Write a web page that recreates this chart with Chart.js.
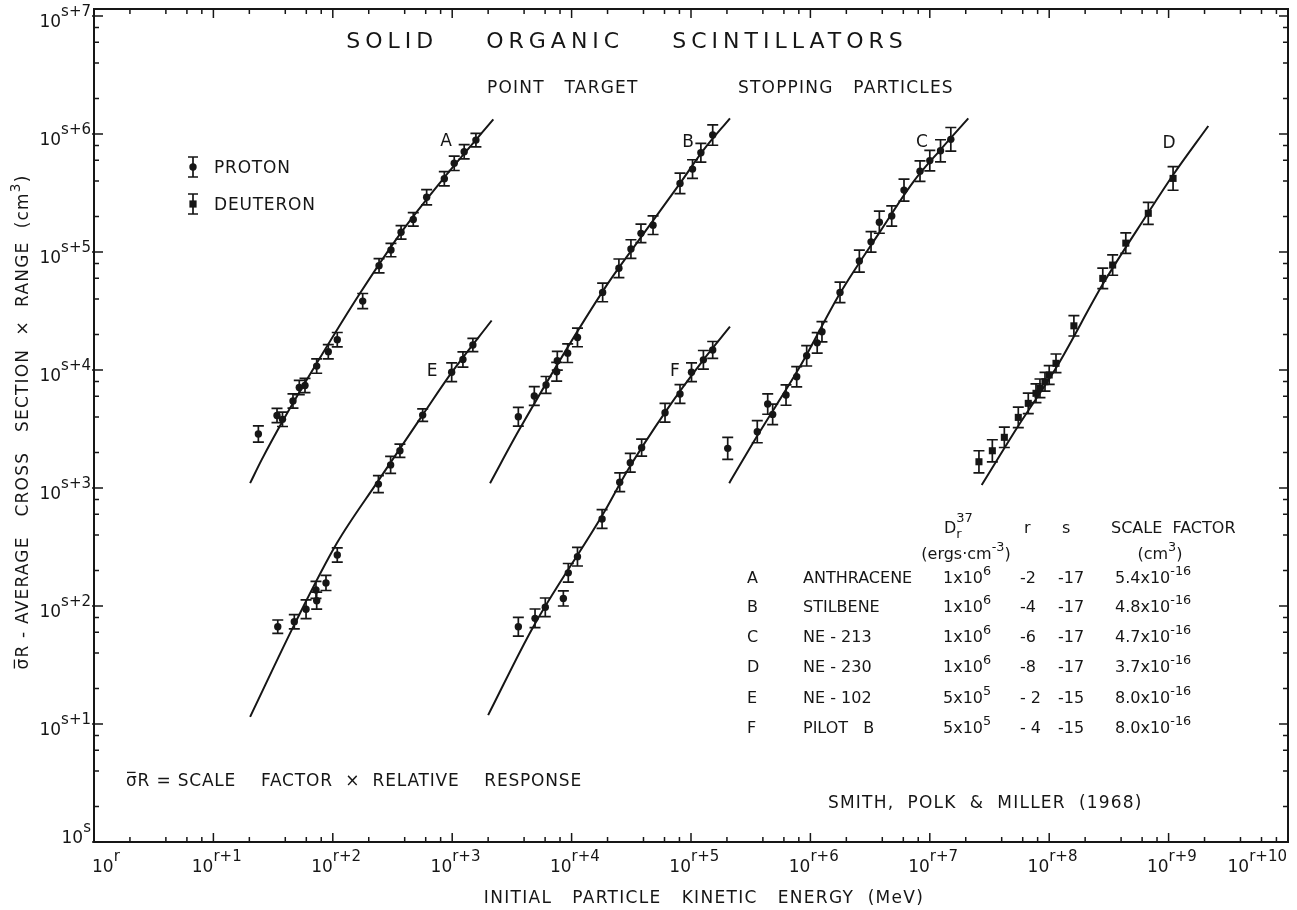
<!DOCTYPE html>
<html>
<head>
<meta charset="utf-8">
<script src="https://cdn.jsdelivr.net/npm/chart.js@4.4.1/dist/chart.umd.min.js"></script>
<style>
html,body{margin:0;padding:0;background:#fff;}
#wrap{width:1297px;height:910px;}
</style>
</head>
<body>
<div id="wrap"><canvas id="chart" width="1297" height="910"></canvas></div>
<script>
// ---- measured points (r = 0, s = 0), error = relative half-width ----
const aX = [23.8, 34.1, 37.9, 46.4, 52.4, 58.5, 73.3, 91.7, 109, 178, 244, 307, 373, 472, 611, 859, 1040, 1260, 1580];
const aY = [2870, 4115, 3820, 5460, 7110, 7390, 10800, 14300, 18100, 38400, 76500, 104000, 147000, 189000, 291000, 418000, 565000, 708000, 889000];
const aErr = [0.17, 0.15, 0.15, 0.15, 0.15, 0.15, 0.15, 0.15, 0.15, 0.16, 0.15, 0.14, 0.14, 0.14, 0.16, 0.15, 0.15, 0.15, 0.14];

const bX = [3580, 4870, 6110, 7590, 7500, 9270, 11200, 18200, 24900, 31400, 38100, 48100, 80900, 103000, 121000, 152000];
const bY = [4020, 6020, 7470, 12000, 9680, 13900, 18900, 45500, 72800, 106000, 144000, 169000, 382000, 505000, 695000, 981000];
const bErr = [0.2, 0.2, 0.18, 0.2, 0.2, 0.2, 0.2, 0.2, 0.2, 0.2, 0.2, 0.2, 0.22, 0.2, 0.2, 0.22];

const cX = [2.03e5, 3.59e5, 4.39e5, 4.83e5, 6.25e5, 7.68e5, 9.31e5, 1.14e6, 1.25e6, 1.77e6, 2.57e6, 3.22e6, 3.78e6, 4.80e6, 6.08e6, 8.28e6, 1.00e7, 1.23e7, 1.50e7];
const cY = [2170, 3000, 5150, 4210, 6140, 8770, 13200, 17000, 21100, 45500, 83900, 122000, 179000, 202000, 335000, 485000, 596000, 722000, 902000];
const cErr = [0.24, 0.24, 0.22, 0.22, 0.22, 0.22, 0.22, 0.22, 0.22, 0.22, 0.24, 0.22, 0.24, 0.22, 0.24, 0.22, 0.22, 0.24, 0.26];

const dX = [2.58e7, 3.34e7, 4.21e7, 5.51e7, 6.68e7, 7.75e7, 8.37e7, 9.22e7, 1.00e8, 1.14e8, 1.61e8, 2.81e8, 3.40e8, 4.38e8, 6.76e8, 1.09e9];
const dY = [1670, 2070, 2690, 3970, 5220, 6350, 7000, 7960, 9080, 11400, 23700, 59800, 77600, 119000, 213000, 421000];
const dErr = [0.24, 0.24, 0.22, 0.22, 0.22, 0.2, 0.2, 0.2, 0.2, 0.2, 0.22, 0.22, 0.22, 0.22, 0.24, 0.26];

const eX = [34.6, 47.6, 59.7, 72.3, 73.3, 87.7, 109, 241, 305, 365, 566, 990, 1230, 1490];
const eY = [66.8, 73.6, 93.8, 137, 111, 157, 271, 1080, 1570, 2070, 4150, 9570, 12300, 16300];
const eErr = [0.14, 0.15, 0.2, 0.18, 0.18, 0.16, 0.15, 0.18, 0.18, 0.14, 0.13, 0.2, 0.16, 0.14];

const fX = [3580, 4940, 6020, 8530, 9380, 11200, 18000, 25300, 31000, 38600, 60600, 80900, 101000, 127000, 152000];
const fY = [66.8, 78.6, 97.5, 116, 191, 262, 546, 1120, 1640, 2200, 4350, 6260, 9570, 12200, 14800];
const fErr = [0.2, 0.2, 0.2, 0.16, 0.2, 0.2, 0.2, 0.2, 0.2, 0.18, 0.2, 0.2, 0.2, 0.2, 0.18];

// ---- fitted response curves ----
const curveAX = [20.3, 25.4, 38.5, 73.3, 169, 378, 871, 2210];
const curveAY = [1100, 1740, 3770, 11400, 44700, 149000, 437000, 1330000];
const curveBX = [2075, 3700, 18500, 35100, 80900, 127000, 212000];
const curveBY = [1100, 3210, 47600, 119000, 382000, 731000, 1360000];
const curveCX = [209000, 355000, 818000, 1.77e6, 3.83e6, 7.28e6, 1.22e7, 2.10e7];
const curveCY = [1100, 2720, 10700, 44700, 149000, 394000, 731000, 1360000];
const curveDX = [2.72e7, 5.35e7, 1.16e8, 2.84e8, 6.56e8, 1.09e9, 2.15e9];
const curveDY = [1060, 3210, 10700, 54300, 206000, 450000, 1170000];
const curveEX = [20.3, 48.2, 108, 240, 566, 991, 2140];
const curveEY = [11.5, 71.3, 340, 1150, 4170, 9550, 26300];
const curveFX = [2000, 4780, 18500, 28900, 62500, 127000, 212000];
const curveFY = [11.9, 66.8, 611, 1370, 4580, 12200, 23300];

// ---- axis tick labels ----
const xTickExp = ["r", "r+1", "r+2", "r+3", "r+4", "r+5", "r+6", "r+7", "r+8", "r+9", "r+10"];
const yTickExp = ["s", "s+1", "s+2", "s+3", "s+4", "s+5", "s+6", "s+7"];
const minorMults = [2, 4, 6, 8];

// ---- table ----
const tabLetter = ["A", "B", "C", "D", "E", "F"];
const tabName = ["ANTHRACENE", "STILBENE", "NE - 213", "NE - 230", "NE - 102", "PILOT   B"];
const tabDMant = ["1x10", "1x10", "1x10", "1x10", "5x10", "5x10"];
const tabDExp = ["6", "6", "6", "6", "5", "5"];
const tabR = ["-2", "-4", "-6", "-8", "- 2", "- 4"];
const tabS = ["-17", "-17", "-17", "-17", "-15", "-15"];
const tabScale = ["5.4", "4.8", "4.7", "3.7", "8.0", "8.0"];

const INK = "#161616";
const FONT = '"DejaVu Sans", "Liberation Sans", sans-serif';

function pts(xs, ys) {
    return xs.map((x, i) => ({x: x, y: ys[i]}));
}

function pointSet(xs, ys, errs, style) {
    return {
        data: pts(xs, ys),
        errs: errs,
        showLine: false,
        pointStyle: style,
        pointRadius: style === "rect" ? 5 : 3.7,
        backgroundColor: INK,
        borderColor: INK,
        borderWidth: 0
    };
}

function curveSet(xs, ys) {
    return {
        data: pts(xs, ys),
        showLine: true,
        pointRadius: 0,
        borderColor: INK,
        borderWidth: 2,
        cubicInterpolationMode: "monotone"
    };
}

function font(size) {
    return size + "px " + FONT;
}

function spacing(ctx, px) {
    if ("letterSpacing" in ctx) ctx.letterSpacing = px + "px";
}

// draws segments like [{t:"10"},{t:"6",sup:true}]
function rich(ctx, segs, x, y, size, align) {
    let w = 0;
    segs.forEach(g => {
        ctx.font = font(g.sup || g.sub ? size * 0.8 : size);
        w += ctx.measureText(g.t).width;
    });
    let cx = x;
    if (align === "center") cx = x - w / 2;
    if (align === "right") cx = x - w;
    ctx.textAlign = "left";
    ctx.textBaseline = "alphabetic";
    segs.forEach(g => {
        const sz = g.sup || g.sub ? size * 0.8 : size;
        ctx.font = font(sz);
        const dy = g.sup ? -size * 0.5 : (g.sub ? size * 0.3 : 0);
        ctx.fillText(g.t, cx, y + dy);
        const tw = ctx.measureText(g.t).width;
        if (g.bar) {
            ctx.beginPath();
            ctx.lineWidth = 1.3;
            ctx.moveTo(cx + 1, y - size * 0.8);
            ctx.lineTo(cx + tw - 2, y - size * 0.8);
            ctx.stroke();
        }
        cx += tw;
    });
    return w;
}

//------------------------
// error bars
//------------------------
const errorBars = {
    id: "errorBars",
    afterDatasetsDraw(chart) {
        const ctx = chart.ctx;
        const xs = chart.scales.x, ys = chart.scales.y;
        ctx.save();
        ctx.strokeStyle = INK;
        ctx.lineWidth = 1.7;
        chart.data.datasets.forEach(ds => {
            if (!ds.errs) return;
            ds.data.forEach((p, j) => {
                const f = 1 + ds.errs[j];
                const px = xs.getPixelForValue(p.x);
                const top = ys.getPixelForValue(p.y * f);
                const bot = ys.getPixelForValue(p.y / f);
                ctx.beginPath();
                ctx.moveTo(px, top); ctx.lineTo(px, bot);
                ctx.moveTo(px - 5.5, top); ctx.lineTo(px + 5.5, top);
                ctx.moveTo(px - 5.5, bot); ctx.lineTo(px + 5.5, bot);
                ctx.stroke();
            });
        });
        ctx.restore();
    }
};

//------------------------
// frame, ticks and all the lettering
//------------------------
const decor = {
    id: "decor",
    afterDraw(chart) {
        const ctx = chart.ctx;
        const a = chart.chartArea;
        const xs = chart.scales.x, ys = chart.scales.y;
        ctx.save();
        ctx.strokeStyle = INK;
        ctx.fillStyle = INK;

        ctx.lineWidth = 2;
        ctx.strokeRect(a.left, a.top, a.right - a.left, a.bottom - a.top);

        ctx.lineWidth = 1.5;
        ctx.beginPath();
        xTickExp.forEach((lab, k) => {
            [1].concat(minorMults).forEach(m => {
                const v = m * Math.pow(10, k);
                if (v > xs.max) return;
                const px = xs.getPixelForValue(v);
                const len = m === 1 ? 9 : 5;
                ctx.moveTo(px, a.bottom); ctx.lineTo(px, a.bottom - len);
                ctx.moveTo(px, a.top); ctx.lineTo(px, a.top + len);
            });
        });
        yTickExp.forEach((lab, k) => {
            [1].concat(minorMults).forEach(m => {
                const v = m * Math.pow(10, k);
                if (v > ys.max) return;
                const py = ys.getPixelForValue(v);
                const len = m === 1 ? 9 : 5;
                ctx.moveTo(a.left - (m === 1 ? 2 : 0), py); ctx.lineTo(a.left + len, py);
                ctx.moveTo(a.right, py); ctx.lineTo(a.right - len, py);
            });
        });
        ctx.stroke();

        // tick labels
        xTickExp.forEach((lab, k) => {
            const px = xs.getPixelForValue(Math.pow(10, k));
            const base = 872;
            ctx.font = font(17);
            const w10 = ctx.measureText("10").width;
            ctx.font = font(15);
            const ws = ctx.measureText(lab).width;
            let left = px - w10;
            if (k === 0) left = px - 2;
            if (k === xTickExp.length - 1) left = px - 1 - w10 - ws;
            ctx.textAlign = "left";
            ctx.font = font(17);
            ctx.fillText("10", left, base);
            ctx.font = font(15);
            ctx.fillText(lab, left + w10, base - 11);
        });
        yTickExp.forEach((lab, k) => {
            const py = ys.getPixelForValue(Math.pow(10, k));
            const base = k === 0 ? py + 1 : py + 11;
            ctx.font = font(15);
            const ws = ctx.measureText(lab).width;
            ctx.font = font(17);
            const w10 = ctx.measureText("10").width;
            const left = a.left - 3 - ws - w10;
            ctx.textAlign = "left";
            ctx.fillText("10", left, base);
            ctx.font = font(15);
            ctx.fillText(lab, left + w10, base - 11);
        });

        // titles
        ctx.textAlign = "center";
        ctx.font = font(22);
        spacing(ctx, 5);
        ctx.fillText("SOLID    ORGANIC    SCINTILLATORS", 627, 48);
        ctx.font = font(17);
        spacing(ctx, 1.2);
        ctx.textAlign = "left";
        ctx.fillText("POINT   TARGET", 487, 93);
        ctx.fillText("STOPPING   PARTICLES", 738, 93);
        spacing(ctx, 0);

        // curve letters
        ctx.textAlign = "center";
        [["A", 446, 140], ["B", 688, 141], ["C", 922, 141], ["D", 1169, 142], ["E", 432, 370], ["F", 675, 370]].forEach(l => {
            ctx.fillText(l[0], l[1], l[2] + 6);
        });

        // legend
        [[167, "circle", "PROTON"], [204, "rect", "DEUTERON"]].forEach(item => {
            const lx = 193, ly = item[0];
            ctx.beginPath();
            ctx.lineWidth = 1.7;
            ctx.moveTo(lx, ly - 10); ctx.lineTo(lx, ly + 10);
            ctx.moveTo(lx - 5, ly - 10); ctx.lineTo(lx + 5, ly - 10);
            ctx.moveTo(lx - 5, ly + 10); ctx.lineTo(lx + 5, ly + 10);
            ctx.stroke();
            if (item[1] === "circle") {
                ctx.beginPath(); ctx.arc(lx, ly, 3.7, 0, Math.PI * 2); ctx.fill();
            } else {
                ctx.fillRect(lx - 3.6, ly - 3.6, 7.2, 7.2);
            }
            ctx.textAlign = "left";
            ctx.font = font(17);
            spacing(ctx, 0.8);
            ctx.fillText(item[2], 214, ly + 6);
            spacing(ctx, 0);
        });

        // axis titles
        ctx.save();
        ctx.translate(28, 422);
        ctx.rotate(-Math.PI / 2);
        spacing(ctx, 1.2);
        rich(ctx, [{t: "σ", bar: true}, {t: "R - AVERAGE   CROSS   SECTION  ×  RANGE  (cm"}, {t: "3", sup: true}, {t: ")"}], 0, 0, 17, "center");
        ctx.restore();
        spacing(ctx, 1.3);
        rich(ctx, [{t: "INITIAL   PARTICLE   KINETIC   ENERGY  (MeV)"}], 704, 903, 17, "center");
        spacing(ctx, 0.8);
        rich(ctx, [{t: "σ", bar: true}, {t: "R = SCALE    FACTOR  ×  RELATIVE    RESPONSE"}], 126, 786, 17, "left");
        spacing(ctx, 1.2);
        rich(ctx, [{t: "SMITH,  POLK  &  MILLER  (1968)"}], 828, 808, 17, "left");
        spacing(ctx, 0);

        // table header
        const ts = 16;
        ctx.font = font(ts);
        ctx.textAlign = "left";
        ctx.fillText("D", 944, 533);
        const wd = ctx.measureText("D").width;
        ctx.font = font(13);
        ctx.fillText("37", 944 + wd, 522);
        ctx.fillText("r", 944 + wd, 538);
        ctx.font = font(ts);
        ctx.fillText("r", 1024, 533);
        ctx.fillText("s", 1062, 533);
        ctx.fillText("SCALE  FACTOR", 1111, 533);
        rich(ctx, [{t: "(ergs·cm"}, {t: "-3", sup: true}, {t: ")"}], 966, 559, ts, "center");
        rich(ctx, [{t: "(cm"}, {t: "3", sup: true}, {t: ")"}], 1160, 559, ts, "center");

        const rowY = [577, 606, 636, 666, 697, 727];
        tabLetter.forEach((l, i) => {
            const y = rowY[i] + 6;
            ctx.font = font(ts);
            ctx.textAlign = "left";
            ctx.fillText(l, 747, y);
            ctx.fillText(tabName[i], 803, y);
            rich(ctx, [{t: tabDMant[i]}, {t: tabDExp[i], sup: true}], 943, y, ts, "left");
            ctx.font = font(ts);
            ctx.fillText(tabR[i], 1020, y);
            ctx.fillText(tabS[i], 1058, y);
            rich(ctx, [{t: tabScale[i] + "x10"}, {t: "-16", sup: true}], 1115, y, ts, "left");
        });

        ctx.restore();
    }
};

const chart = new Chart(document.getElementById("chart"), {
    type: "scatter",
    data: {
        datasets: [
            pointSet(aX, aY, aErr, "circle"),
            pointSet(bX, bY, bErr, "circle"),
            pointSet(cX, cY, cErr, "circle"),
            pointSet(dX, dY, dErr, "rect"),
            pointSet(eX, eY, eErr, "circle"),
            pointSet(fX, fY, fErr, "circle"),
            curveSet(curveAX, curveAY),
            curveSet(curveBX, curveBY),
            curveSet(curveCX, curveCY),
            curveSet(curveDX, curveDY),
            curveSet(curveEX, curveEY),
            curveSet(curveFX, curveFY)
        ]
    },
    options: {
        responsive: false,
        animation: false,
        devicePixelRatio: 1,
        layout: {padding: {left: 94, right: 9, top: 9, bottom: 68}},
        plugins: {legend: {display: false}, tooltip: {enabled: false}},
        scales: {
            x: {type: "logarithmic", min: 1, max: 1e10, display: false},
            y: {type: "logarithmic", min: 1, max: Math.pow(10, 7.06), display: false}
        }
    },
    plugins: [errorBars, decor]
});
</script>
</body>
</html>
